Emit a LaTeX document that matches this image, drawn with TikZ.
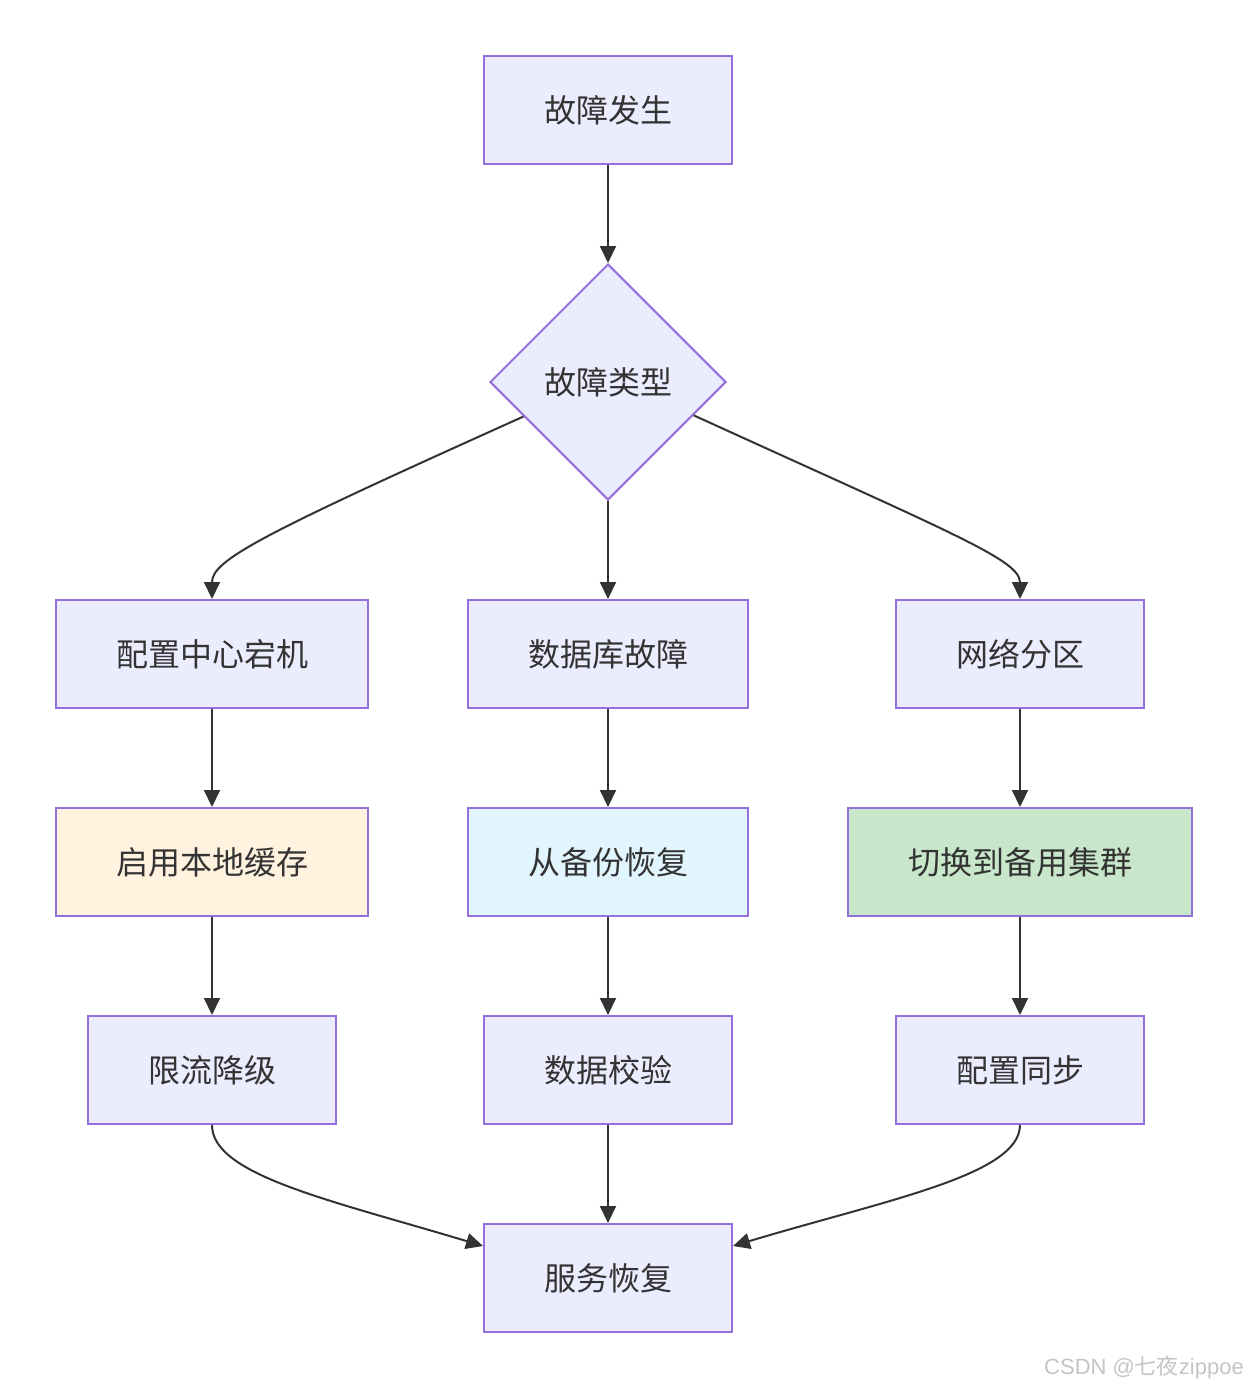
\documentclass[tikz,border=0pt]{standalone}
\usepackage{fontspec}
\setmainfont{Noto Sans CJK SC}
\newfontfamily\wmfont{Liberation Sans}
\newfontfamily\cjkwm{Noto Sans CJK SC}
\usetikzlibrary{shapes.geometric,arrows.meta,calc}
\definecolor{nodefill}{HTML}{ECECFF}
\definecolor{nodeline}{HTML}{9370DB}
\definecolor{txt}{HTML}{333333}
\definecolor{edge}{HTML}{333333}
\definecolor{orangefill}{HTML}{FFF3E0}
\definecolor{bluefill}{HTML}{E1F5FE}
\definecolor{greenfill}{HTML}{C8E6C9}
\definecolor{wm}{HTML}{C4C4C4}
\begin{document}
\begin{tikzpicture}[x=1pt,y=-1pt,
  box/.style={draw=nodeline,fill=nodefill,line width=2pt,inner sep=0pt,
    minimum height=108pt,text=txt,font=\fontsize{32}{36}\selectfont},
  decision/.style={diamond,aspect=1,draw=nodeline,fill=nodefill,line width=2pt,
    inner sep=0pt,minimum width=236pt,minimum height=236pt,text=txt,
    font=\fontsize{32}{36}\selectfont},
  conn/.style={draw=edge,line width=2pt,-{Triangle[length=17pt,width=16pt]}}]
\useasboundingbox (0,0) rectangle (1248,1387);
\node[box,minimum width=248pt] (start) at (608,110) {故障发生};
\node[decision] (type) at (608,382) {故障类型};
\node[box,minimum width=312pt] (cfg) at (212,654) {配置中心宕机};
\node[box,minimum width=280pt] (db) at (608,654) {数据库故障};
\node[box,minimum width=248pt] (net) at (1020,654) {网络分区};
\node[box,minimum width=312pt,fill=orangefill] (cache) at (212,862) {启用本地缓存};
\node[box,minimum width=280pt,fill=bluefill] (backup) at (608,862) {从备份恢复};
\node[box,minimum width=344pt,fill=greenfill] (switch) at (1020,862) {切换到备用集群};
\node[box,minimum width=248pt] (limit) at (212,1070) {限流降级};
\node[box,minimum width=248pt] (check) at (608,1070) {数据校验};
\node[box,minimum width=248pt] (sync) at (1020,1070) {配置同步};
\node[box,minimum width=248pt] (done) at (608,1278) {服务恢复};
\node[anchor=east,text=wm,font=\fontsize{22}{24}\wmfont,inner sep=0pt] (wmark) at (1244,1367) {CSDN @{\cjkwm 七夜}zippoe};

\coordinate (tl) at ($(type.west)!0.29!(type.south)$);
\coordinate (tr) at ($(type.east)!0.28!(type.south)$);

\draw[conn] (start.south) -- (type.north);
\draw[conn] (tl) .. controls (260,535) and (212,560) .. (cfg.north);
\draw[conn] (type.south) -- (db.north);
\draw[conn] (tr) .. controls (956,535) and (1020,560) .. (net.north);
\draw[conn] (cfg.south) -- (cache.north);
\draw[conn] (db.south) -- (backup.north);
\draw[conn] (net.south) -- (switch.north);
\draw[conn] (cache.south) -- (limit.north);
\draw[conn] (backup.south) -- (check.north);
\draw[conn] (switch.south) -- (sync.north);
\draw[conn] (limit.south) .. controls (212,1175) and (330,1200) .. ($(done.west)+(0,-32)$);
\draw[conn] (check.south) -- (done.north);
\draw[conn] (sync.south) .. controls (1020,1175) and (886,1200) .. ($(done.east)+(0,-32)$);
\end{tikzpicture}
\end{document}
